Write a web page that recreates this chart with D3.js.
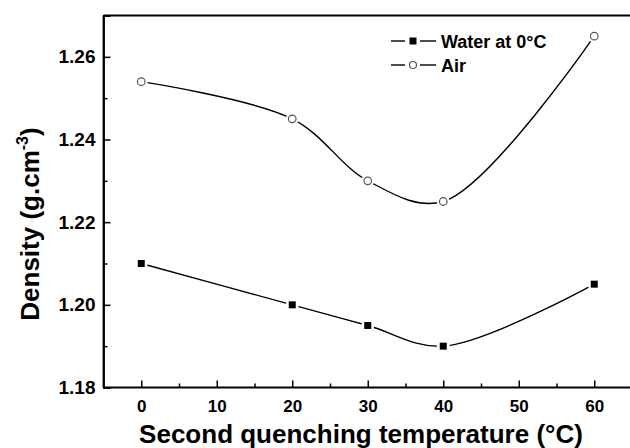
<!DOCTYPE html>
<html>
<head>
<meta charset="utf-8">
<script src="https://cdn.jsdelivr.net/npm/d3@7"></script>
<style>
  body { margin: 0; background: #fff; }
  svg text { font-family: Arial, "Liberation Sans", sans-serif; font-weight: bold; fill: #000; }
</style>
</head>
<body>
<div id="chart"></div>
<script>
// values
const temps = [0, 20, 30, 40, 60];
const waterDensity = [1.210, 1.200, 1.195, 1.190, 1.205];
const airDensity = [1.254, 1.245, 1.230, 1.225, 1.265];
const xTicks = [0, 10, 20, 30, 40, 50, 60];
const yTicks = [1.18, 1.20, 1.22, 1.24, 1.26];
const seriesNames = ["Water at 0°C", "Air"];

const width = 630, height = 448;
const svg = d3.select("#chart").append("svg").attr("width", width).attr("height", height);

//Scales
const x = d3.scaleLinear().domain([-5, 65]).range([103.5, 632]);
const y = d3.scaleLinear().domain([1.18, 1.27]).range([387.5, 15.5]);

//Frame: left, top, bottom (no right border)
svg.append("line").attr("x1", x(-5)).attr("x2", x(-5)).attr("y1", y(1.27)).attr("y2", y(1.18))
  .attr("stroke", "#000").attr("stroke-width", 1.8);
svg.append("line").attr("x1", x(-5)).attr("x2", width).attr("y1", y(1.27)).attr("y2", y(1.27))
  .attr("stroke", "#000").attr("stroke-width", 1.8);

//Axes, ticks inward
let xAxis = d3.axisBottom(x).tickValues(xTicks).tickSize(-7).tickPadding(12).tickFormat(d3.format("d"));
let xMinor = d3.axisBottom(x).tickValues([5, 15, 25, 35, 45, 55]).tickSize(-4).tickFormat("");
let xg = svg.append("g").attr("transform", `translate(0,${y(1.18)})`).call(xAxis);
let xmg = svg.append("g").attr("transform", `translate(0,${y(1.18)})`).call(xMinor);
let yAxis = d3.axisLeft(y).tickValues(yTicks).tickSize(-7).tickPadding(8).tickFormat(d3.format(".2f"));
let yMinor = d3.axisLeft(y).tickValues([1.19, 1.21, 1.23, 1.25]).tickSize(-4).tickFormat("");
let yg = svg.append("g").attr("transform", `translate(${x(-5)},0)`).call(yAxis);
let ymg = svg.append("g").attr("transform", `translate(${x(-5)},0)`).call(yMinor);

[xg, xmg, yg, ymg].forEach(g => {
  g.select(".domain").attr("stroke", "#000").attr("stroke-width", 1.8);
  g.selectAll(".tick line").attr("stroke", "#000").attr("stroke-width", 1.5);
  g.selectAll("text").attr("fill", "#000");
});
xg.selectAll("text").style("font-size", "17px");
yg.selectAll("text").style("font-size", "19px");
xg.select(".domain").attr("d", `M${x(-5)},0H${width}`);
xmg.select(".domain").remove();
ymg.select(".domain").remove();

//Axis titles
svg.append("text").attr("x", 361).attr("y", 443).attr("text-anchor", "middle")
  .style("font-size", "26px").text("Second quenching temperature (°C)");
let yt = svg.append("text").attr("transform", "translate(39,224) rotate(-90)")
  .attr("text-anchor", "middle").style("font-size", "26px");
yt.append("tspan").text("Density (g.cm");
yt.append("tspan").attr("dy", -11).style("font-size", "16px").text("-3");
yt.append("tspan").attr("dy", 11).text(")");

//Series
const line = d3.line().x(d => x(d[0])).y(d => y(d[1])).curve(d3.curveCatmullRom.alpha(0.5));
const water = temps.map((t, i) => [t, waterDensity[i]]);
const air = temps.map((t, i) => [t, airDensity[i]]);

[water, air].forEach(data => {
  svg.append("path").datum(data).attr("d", line)
    .attr("fill", "none").attr("stroke", "#000").attr("stroke-width", 1.4);
  //white gap round each marker
  svg.selectAll(null).data(data).enter().append("circle")
    .attr("cx", d => x(d[0])).attr("cy", d => y(d[1])).attr("r", 6.5).attr("fill", "#fff");
});

svg.selectAll(null).data(water).enter().append("rect")
  .attr("x", d => x(d[0]) - 3.5).attr("y", d => y(d[1]) - 3.5)
  .attr("width", 7).attr("height", 7).attr("fill", "#000");
svg.selectAll(null).data(air).enter().append("circle")
  .attr("cx", d => x(d[0])).attr("cy", d => y(d[1])).attr("r", 3.8)
  .attr("fill", "#fff").attr("stroke", "#555").attr("stroke-width", 1.2);

//Legend
const legend = svg.append("g");
seriesNames.forEach((name, i) => {
  let cy = 41 + i * 24;
  legend.append("line").attr("x1", 391).attr("x2", 405).attr("y1", cy).attr("y2", cy)
    .attr("stroke", "#000").attr("stroke-width", 1.4);
  legend.append("line").attr("x1", 420).attr("x2", 436).attr("y1", cy).attr("y2", cy)
    .attr("stroke", "#000").attr("stroke-width", 1.4);
  if (i === 0) {
    legend.append("rect").attr("x", 409.5).attr("y", cy - 3.5).attr("width", 7).attr("height", 7).attr("fill", "#000");
  } else {
    legend.append("circle").attr("cx", 413).attr("cy", cy).attr("r", 3.5)
      .attr("fill", "#fff").attr("stroke", "#555").attr("stroke-width", 1.2);
  }
  legend.append("text").attr("x", 441).attr("y", cy + 6.5).style("font-size", "18px").text(name);
});
</script>
</body>
</html>
